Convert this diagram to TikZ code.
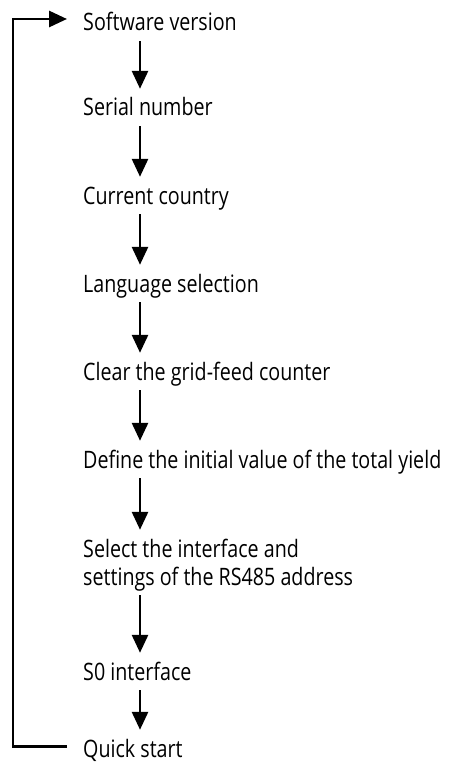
\documentclass[tikz,border=0pt]{standalone}
\usepackage{fontspec}
\setmainfont[FakeStretch=0.82]{Open Sans}
\usetikzlibrary{arrows.meta}
\begin{document}
\begin{tikzpicture}[x=1pt,y=-1pt,
  lbl/.style={anchor=base west, inner xsep=0pt, inner ysep=10pt, text height=17pt, text depth=0pt,
              font=\fontsize{24}{28}\selectfont, align=left},
  flow/.style={line width=2.8pt, -{Triangle[length=18pt,width=16pt]}}]
\useasboundingbox (0,0) rectangle (453,765);
\node[lbl] (n1) at (83,31) {Software version};
\node[lbl] (n2) at (83,116) {Serial number};
\node[lbl] (n3) at (83,204) {Current country};
\node[lbl] (n4) at (83,292) {Language selection};
\node[lbl] (n5) at (83,380) {Clear the grid-feed counter};
\node[lbl] (n6) at (83,468) {Define the initial value of the total yield};
\node[lbl, text height=45pt] (n7) at (83,585) {Select the interface and\\settings of the RS485 address};
\node[lbl] (n8) at (83,680) {S0 interface};
\node[lbl] (n9) at (83,757) {Quick start};
\coordinate (ax) at (140,0);
\coordinate (lx) at (13,0);
\coordinate (lb) at ([xshift=-16pt,yshift=2pt]n9.west);
\coordinate (lt) at ([xshift=-16pt,yshift=3.5pt]n1.west);
\draw[flow] (n1.south -| ax) -- (n2.north -| ax);
\draw[flow] (n2.south -| ax) -- (n3.north -| ax);
\draw[flow] (n3.south -| ax) -- (n4.north -| ax);
\draw[flow] (n4.south -| ax) -- (n5.north -| ax);
\draw[flow] (n5.south -| ax) -- (n6.north -| ax);
\draw[flow] (n6.south -| ax) -- (n7.north -| ax);
\draw[flow] (n7.south -| ax) -- (n8.north -| ax);
\draw[flow] (n8.south -| ax) -- (n9.north -| ax);
\draw[flow] (lb) -- (lx |- lb) -- (lx |- lt) -- (lt);
\end{tikzpicture}
\end{document}
